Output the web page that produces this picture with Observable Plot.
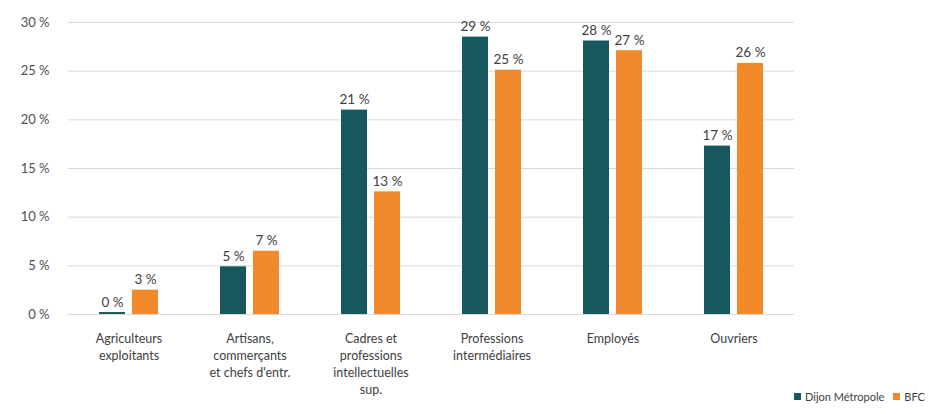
<!DOCTYPE html>
<html><head><meta charset="utf-8">
<script src="https://cdn.jsdelivr.net/npm/d3@7"></script>
<script src="https://cdn.jsdelivr.net/npm/@observablehq/plot@0.6"></script>
<style>
body{margin:0;background:#fff;font-family:Lato,"Open Sans",sans-serif}
#wrap{position:relative;width:929px;height:414px;overflow:hidden}
.legend{position:absolute;left:794px;top:390px;font-size:11px;color:#404040;display:flex;gap:9px;white-space:nowrap;align-items:center}
.legend span.item{display:flex;align-items:center}
.sw{display:inline-block;width:7px;height:7px;margin-right:4px}
</style></head><body><div id="wrap"></div>
<script>
const categories = ["Agriculteurs\nexploitants","Artisans,\ncommerçants\net chefs d'entr.","Cadres et\nprofessions\nintellectuelles\nsup.","Professions\nintermédiaires","Employés","Ouvriers"];
const series = ["Dijon Métropole","BFC"];
const dijon = [0.2,4.9,21.0,28.5,28.1,17.3];
const bfc = [2.5,6.5,12.6,25.1,27.1,25.8];
const yTicks = [0,5,10,15,20,25,30];
const colors = ["#17585e","#f28a2b"];

const data = categories.flatMap((c,i)=>[
  {cat:c, s:series[0], v:dijon[i]},
  {cat:c, s:series[1], v:bfc[i]}
]);

const chart = Plot.plot({
  width:929, height:414,
  marginTop:22, marginBottom:100, marginLeft:67, marginRight:134,
  style:{fontFamily:"Lato, 'Open Sans', sans-serif", fontSize:"12px", color:"#595959", background:"#fff"},
  fx:{domain:categories, padding:0, label:null, axis:null},
  x:{domain:series, paddingInner:0.206, paddingOuter:0.894, axis:null},
  y:{domain:[0,30], label:null, axis:null},
  color:{domain:series, range:colors},
  marks:[
    Plot.gridY(yTicks,{stroke:"#d9d9d9", strokeOpacity:1, strokeWidth:1}),
    Plot.axisY(yTicks,{tickSize:0, tickPadding:19, tickFormat:d=>d+"\u00a0%", fontSize:13, fill:"#505050", label:null}),
    Plot.axisFx({anchor:"bottom", tickSize:0, tickPadding:16, lineHeight:1.38, fontSize:12.5, fill:"#404040", label:null}),
    Plot.barY(data,{fx:"cat", x:"s", y:"v", fill:"s"}),
    Plot.text(data,{fx:"cat", x:"s", y:"v", text:d=>Math.round(d.v)+"\u00a0%", lineAnchor:"bottom", dy:-6, fill:"#404040", fontSize:13.5})
  ]
});
const wrap = document.getElementById("wrap");
wrap.appendChild(chart);
const legend = document.createElement("div");
legend.className = "legend";
series.forEach((s,i)=>{
  const it = document.createElement("span");
  it.className = "item";
  const sw = document.createElement("span");
  sw.className = "sw";
  sw.style.background = colors[i];
  it.appendChild(sw);
  it.appendChild(document.createTextNode(s));
  legend.appendChild(it);
});
wrap.appendChild(legend);
</script></body></html>
